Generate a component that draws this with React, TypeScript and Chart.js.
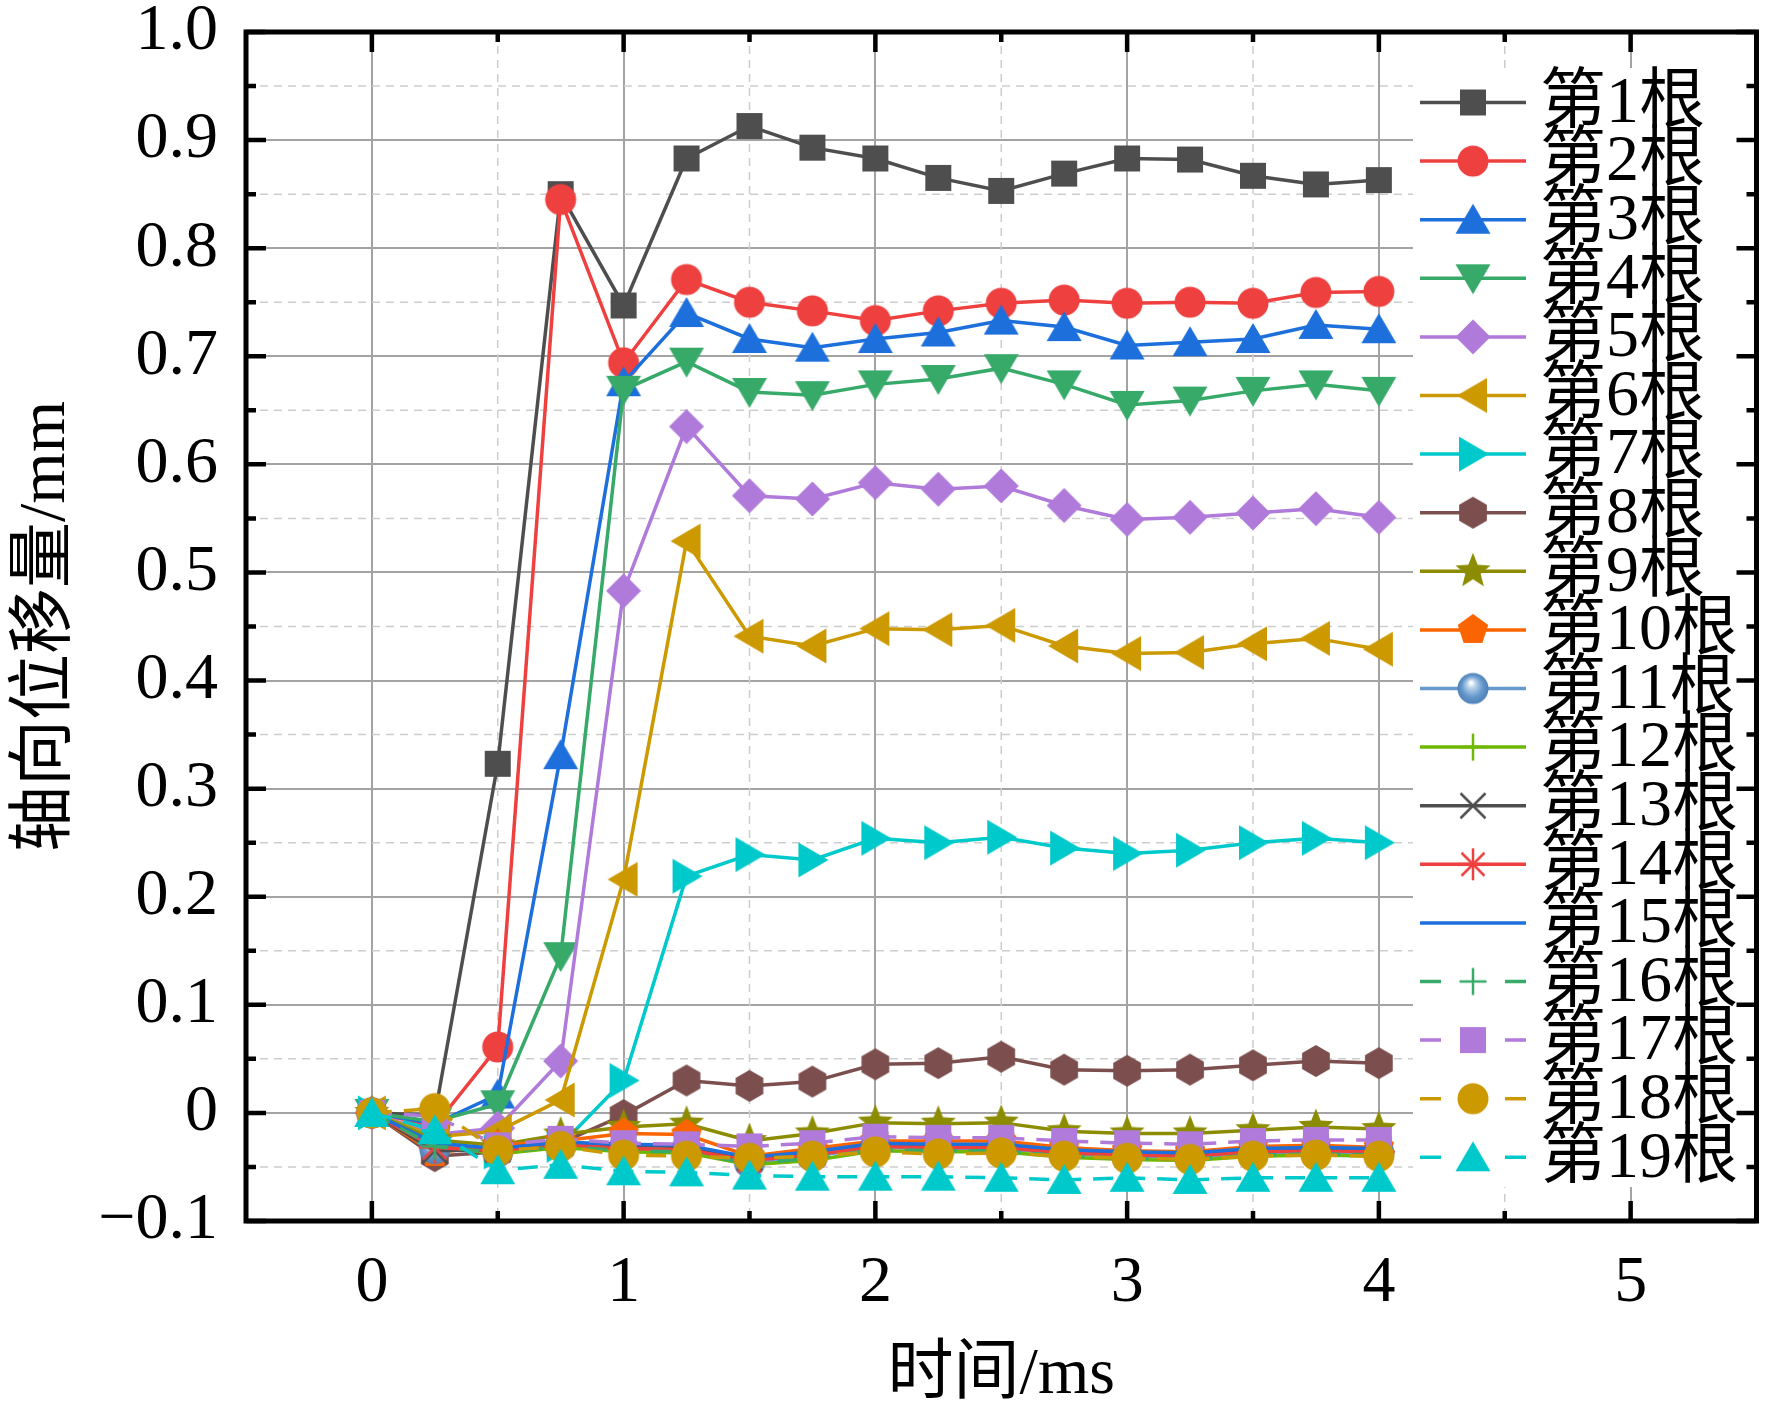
import { useEffect, useRef } from "react";
import { Chart, registerables } from "chart.js";

Chart.register(...registerables);

const FONT = "'Liberation Serif', 'Times New Roman', 'Noto Sans CJK SC', serif";

// 时间 (ms)
const TIME = [0, 0.25, 0.5, 0.75, 1, 1.25, 1.5, 1.75, 2, 2.25, 2.5, 2.75, 3, 3.25, 3.5, 3.75, 4];

const X_TICKS = [0, 1, 2, 3, 4, 5];
const X_MINOR = [0.5, 1.5, 2.5, 3.5, 4.5];
const Y_TICKS = [-0.1, 0, 0.1, 0.2, 0.3, 0.4, 0.5, 0.6, 0.7, 0.8, 0.9, 1.0];
const Y_MINOR = [-0.05, 0.05, 0.15, 0.25, 0.35, 0.45, 0.55, 0.65, 0.75, 0.85, 0.95];

const ROD_NAMES = [
  "第1根", "第2根", "第3根", "第4根", "第5根", "第6根", "第7根", "第8根", "第9根", "第10根",
  "第11根", "第12根", "第13根", "第14根", "第15根", "第16根", "第17根", "第18根", "第19根",
];

// 轴向位移量 (mm)
const ROD_1 = [0, -0.002, 0.323, 0.850, 0.747, 0.883, 0.913, 0.893, 0.883, 0.865, 0.853, 0.869, 0.883, 0.882, 0.867, 0.859, 0.863];
const ROD_2 = [0, -0.012, 0.061, 0.845, 0.694, 0.771, 0.750, 0.742, 0.733, 0.742, 0.749, 0.752, 0.749, 0.750, 0.749, 0.759, 0.760];
const ROD_3 = [0, -0.010, 0.017, 0.331, 0.676, 0.740, 0.716, 0.708, 0.716, 0.722, 0.733, 0.727, 0.710, 0.713, 0.716, 0.729, 0.725];
const ROD_4 = [0, -0.008, 0.008, 0.145, 0.669, 0.695, 0.667, 0.664, 0.674, 0.679, 0.689, 0.674, 0.655, 0.659, 0.668, 0.674, 0.668];
const ROD_5 = [0, -0.020, -0.014, 0.048, 0.483, 0.635, 0.571, 0.568, 0.583, 0.577, 0.580, 0.562, 0.549, 0.551, 0.555, 0.559, 0.551];
const ROD_6 = [0, -0.022, -0.017, 0.012, 0.216, 0.529, 0.441, 0.432, 0.448, 0.447, 0.451, 0.432, 0.425, 0.426, 0.434, 0.439, 0.429];
const ROD_7 = [0, -0.025, -0.036, -0.030, 0.030, 0.219, 0.239, 0.234, 0.254, 0.250, 0.255, 0.245, 0.240, 0.243, 0.250, 0.254, 0.250];
const ROD_8 = [0, -0.040, -0.036, -0.028, -0.002, 0.030, 0.025, 0.029, 0.045, 0.046, 0.052, 0.040, 0.039, 0.040, 0.044, 0.048, 0.046];
const ROD_9 = [0, -0.025, -0.030, -0.020, -0.013, -0.010, -0.026, -0.019, -0.009, -0.010, -0.009, -0.017, -0.019, -0.019, -0.016, -0.013, -0.015];
const ROD_10 = [0, -0.037, -0.030, -0.026, -0.019, -0.020, -0.040, -0.033, -0.026, -0.026, -0.026, -0.032, -0.035, -0.036, -0.031, -0.030, -0.032];
const ROD_11 = [0, -0.033, -0.036, -0.030, -0.033, -0.034, -0.046, -0.040, -0.032, -0.033, -0.033, -0.038, -0.040, -0.041, -0.037, -0.036, -0.037];
const ROD_12 = [0, -0.030, -0.038, -0.032, -0.036, -0.037, -0.048, -0.044, -0.035, -0.036, -0.036, -0.041, -0.043, -0.044, -0.040, -0.039, -0.040];
const ROD_13 = [0, -0.035, -0.034, -0.028, -0.030, -0.031, -0.042, -0.037, -0.029, -0.030, -0.030, -0.035, -0.037, -0.038, -0.034, -0.033, -0.034];
const ROD_14 = [0, -0.032, -0.035, -0.029, -0.033, -0.034, -0.044, -0.039, -0.031, -0.032, -0.032, -0.037, -0.039, -0.040, -0.036, -0.035, -0.036];
const ROD_15 = [0, -0.028, -0.033, -0.027, -0.029, -0.030, -0.041, -0.036, -0.028, -0.029, -0.029, -0.034, -0.036, -0.037, -0.033, -0.032, -0.033];
const ROD_16 = [0, -0.031, -0.037, -0.031, -0.035, -0.036, -0.047, -0.042, -0.034, -0.035, -0.035, -0.040, -0.042, -0.043, -0.039, -0.038, -0.039];
const ROD_17 = [0, -0.003, -0.030, -0.024, -0.028, -0.029, -0.031, -0.028, -0.022, -0.023, -0.023, -0.026, -0.028, -0.029, -0.026, -0.025, -0.025];
const ROD_18 = [0, 0.004, -0.035, -0.031, -0.039, -0.040, -0.042, -0.040, -0.036, -0.038, -0.037, -0.040, -0.042, -0.043, -0.040, -0.039, -0.040];
const ROD_19 = [0, -0.016, -0.053, -0.048, -0.054, -0.055, -0.058, -0.059, -0.059, -0.059, -0.060, -0.062, -0.060, -0.062, -0.060, -0.060, -0.060];

const SERIES = [
  ROD_1, ROD_2, ROD_3, ROD_4, ROD_5, ROD_6, ROD_7, ROD_8, ROD_9, ROD_10,
  ROD_11, ROD_12, ROD_13, ROD_14, ROD_15, ROD_16, ROD_17, ROD_18, ROD_19,
];

const GRAY = "#4e4e4e", RED = "#ef4040", BLUE = "#1d6fdc", GREEN = "#37aa6a",
  PURPLE = "#b07ada", GOLD = "#cc9900", CYAN = "#00c9cc";

const STYLE: { color: string; marker: string; dashed?: boolean }[] = [
  { color: GRAY, marker: "square" },
  { color: RED, marker: "circle" },
  { color: BLUE, marker: "triUp" },
  { color: GREEN, marker: "triDown" },
  { color: PURPLE, marker: "diamond" },
  { color: GOLD, marker: "triLeft" },
  { color: CYAN, marker: "triRight" },
  { color: "#7c4e4e", marker: "hexagon" },
  { color: "#8c8c00", marker: "star" },
  { color: "#fb6501", marker: "pentagon" },
  { color: "#6699cc", marker: "sphere" },
  { color: "#6fb802", marker: "plus" },
  { color: GRAY, marker: "cross" },
  { color: RED, marker: "asterisk" },
  { color: BLUE, marker: "none" },
  { color: GREEN, marker: "plus", dashed: true },
  { color: PURPLE, marker: "square", dashed: true },
  { color: GOLD, marker: "circle", dashed: true },
  { color: CYAN, marker: "triUp", dashed: true },
];

function makeMarker(kind: string, color: string): HTMLCanvasElement | null {
  if (kind === "none") return null;
  const s = 44;
  const c = document.createElement("canvas");
  c.width = s;
  c.height = s;
  const g = c.getContext("2d")!;
  g.translate(s / 2, s / 2);
  g.fillStyle = color;
  g.strokeStyle = color;
  g.lineWidth = 2.5;
  const poly = (pts: number[][]) => {
    g.beginPath();
    pts.forEach(([x, y], i) => (i ? g.lineTo(x, y) : g.moveTo(x, y)));
    g.closePath();
    g.fill();
  };
  const ring = (n: number, r: number, r2?: number) => {
    const pts: number[][] = [];
    const m = r2 ? n * 2 : n;
    for (let i = 0; i < m; i++) {
      const a = -Math.PI / 2 + (i * 2 * Math.PI) / m;
      const rr = r2 && i % 2 ? r2 : r;
      pts.push([rr * Math.cos(a), rr * Math.sin(a)]);
    }
    poly(pts);
  };
  const seg = (x1: number, y1: number, x2: number, y2: number) => {
    g.beginPath();
    g.moveTo(x1, y1);
    g.lineTo(x2, y2);
    g.stroke();
  };
  switch (kind) {
    case "square": g.fillRect(-13, -13, 26, 26); break;
    case "circle": g.beginPath(); g.arc(0, 0, 15.5, 0, Math.PI * 2); g.fill(); break;
    case "triUp": poly([[0, -16], [17.5, 14], [-17.5, 14]]); break;
    case "triDown": poly([[0, 16], [17.5, -14], [-17.5, -14]]); break;
    case "triLeft": poly([[-16, 0], [14, -17.5], [14, 17.5]]); break;
    case "triRight": poly([[16, 0], [-14, -17.5], [-14, 17.5]]); break;
    case "diamond": poly([[0, -17.5], [17.5, 0], [0, 17.5], [-17.5, 0]]); break;
    case "hexagon": ring(6, 16); break;
    case "pentagon": ring(5, 16); break;
    case "star": ring(5, 18.5, 8); break;
    case "sphere": {
      const gr = g.createRadialGradient(-2, -6, 1, 0, 0, 15.5);
      gr.addColorStop(0, "#ffffff");
      gr.addColorStop(0.25, "#b5cfe9");
      gr.addColorStop(0.65, color);
      gr.addColorStop(1, "#4f80b8");
      g.fillStyle = gr;
      g.beginPath(); g.arc(0, 0, 15.5, 0, Math.PI * 2); g.fill();
      break;
    }
    case "plus": seg(-13.5, 0, 13.5, 0); seg(0, -13.5, 0, 13.5); break;
    case "cross": seg(-12.5, -12.5, 12.5, 12.5); seg(-12.5, 12.5, 12.5, -12.5); break;
    case "asterisk":
      seg(-16, 0, 16, 0); seg(0, -16, 0, 16);
      seg(-11.5, -11.5, 11.5, 11.5); seg(-11.5, 11.5, 11.5, -11.5);
      break;
  }
  return c;
}

const fmtY = (v: number) => {
  const r = Math.round(v * 10) / 10;
  if (r === 0) return "0";
  return r < 0 ? "\u2212" + Math.abs(r).toFixed(1) : r.toFixed(1);
};

export default function App() {
  const canvasRef = useRef<HTMLCanvasElement>(null);
  const chartRef = useRef<Chart | null>(null);

  useEffect(() => {
    document.body.style.margin = "0";
    if (!canvasRef.current) return;
    if (chartRef.current) chartRef.current.destroy();

    const markers = STYLE.map(s => makeMarker(s.marker, s.color));

    const framePlugin = {
      id: "frame",
      beforeDatasetsDraw(chart: any) {
        const { ctx, chartArea: a, scales: { x, y } } = chart;
        ctx.save();
        ctx.strokeStyle = "#cdcdcd";
        ctx.lineWidth = 1.5;
        ctx.setLineDash([8, 6]);
        ctx.beginPath();
        X_MINOR.forEach(v => {
          const px = x.getPixelForValue(v);
          ctx.moveTo(px, a.top); ctx.lineTo(px, a.bottom);
        });
        Y_MINOR.forEach(v => {
          const py = y.getPixelForValue(v);
          ctx.moveTo(a.left, py); ctx.lineTo(a.right, py);
        });
        ctx.stroke();
        ctx.restore();
      },
      afterDatasetsDraw(chart: any) {
        const { ctx, chartArea: a, scales: { x, y } } = chart;
        ctx.save();

        // legend box
        ctx.fillStyle = "#ffffff";
        ctx.fillRect(1413, 68, a.right - 1413, 1187 - 68);
        STYLE.forEach((st, i) => {
          const cy = 102.5 + i * 58.6;
          ctx.strokeStyle = st.color;
          ctx.lineWidth = 3.5;
          ctx.setLineDash([]);
          ctx.beginPath();
          if (st.dashed) {
            ctx.moveTo(1420, cy); ctx.lineTo(1441, cy);
            ctx.moveTo(1505, cy); ctx.lineTo(1526, cy);
          } else {
            ctx.moveTo(1420, cy); ctx.lineTo(1526, cy);
          }
          ctx.stroke();
          const m = markers[i];
          if (m) ctx.drawImage(m, 1473 - m.width / 2, cy - m.height / 2);
          ctx.fillStyle = "#000";
          ctx.font = `66px ${FONT}`;
          ctx.textBaseline = "middle";
          ctx.textAlign = "left";
          ctx.fillText(ROD_NAMES[i], 1540, cy + 2);
        });

        // frame + inward ticks
        ctx.strokeStyle = "#000";
        ctx.lineWidth = 5;
        ctx.strokeRect(a.left, a.top, a.right - a.left, a.bottom - a.top);
        ctx.lineWidth = 4.5;
        ctx.beginPath();
        const tickX = (v: number, len: number) => {
          const px = x.getPixelForValue(v);
          ctx.moveTo(px, a.bottom); ctx.lineTo(px, a.bottom - len);
          ctx.moveTo(px, a.top); ctx.lineTo(px, a.top + len);
        };
        const tickY = (v: number, len: number) => {
          const py = y.getPixelForValue(v);
          ctx.moveTo(a.left, py); ctx.lineTo(a.left + len, py);
          ctx.moveTo(a.right, py); ctx.lineTo(a.right - len, py);
        };
        X_TICKS.forEach(v => tickX(v, 20));
        X_MINOR.forEach(v => tickX(v, 10));
        Y_TICKS.forEach(v => tickY(v, 20));
        Y_MINOR.forEach(v => tickY(v, 10));
        ctx.stroke();
        ctx.restore();
      },
    };

    const datasets = SERIES.map((vals, i) => {
      const st = STYLE[i];
      const m = markers[i];
      return {
        label: ROD_NAMES[i],
        data: TIME.map((t, k) => ({ x: t, y: vals[k] })),
        borderColor: st.color,
        backgroundColor: st.color,
        borderWidth: 3.5,
        borderDash: st.dashed ? [20, 12] : [],
        pointStyle: m ?? "circle",
        pointRadius: m ? 12 : 0,
        pointHoverRadius: m ? 12 : 0,
        tension: 0,
        order: SERIES.length - 1 - i,
      };
    });

    const tickFont = { family: FONT, size: 66 };

    chartRef.current = new Chart(canvasRef.current, {
      type: "line",
      data: { datasets },
      options: {
        animation: false,
        responsive: false,
        devicePixelRatio: 1,
        events: [],
        layout: { padding: { left: 0, top: 32, right: 14, bottom: 0 } },
        plugins: { legend: { display: false }, tooltip: { enabled: false } },
        scales: {
          x: {
            type: "linear",
            min: -0.5,
            max: 5.5,
            afterBuildTicks: (s: any) => { s.ticks = X_TICKS.map(v => ({ value: v })); },
            afterFit: (s: any) => { s.height = 194; s.paddingLeft = 0; s.paddingRight = 0; },
            grid: { color: "#a3a3a3", lineWidth: 2, drawTicks: false },
            border: { display: false },
            ticks: {
              autoSkip: false, maxRotation: 0, padding: 23, color: "#000", font: tickFont,
              callback: (v: any) => String(v),
            },
            title: {
              display: true, text: "时间/ms", color: "#000", font: tickFont,
              padding: { top: 0, bottom: 0 },
            },
          },
          y: {
            type: "linear",
            min: -0.1,
            max: 1.0,
            afterBuildTicks: (s: any) => { s.ticks = Y_TICKS.map(v => ({ value: v })); },
            afterFit: (s: any) => { s.width = 246; s.paddingTop = 0; s.paddingBottom = 0; },
            grid: { color: "#a3a3a3", lineWidth: 2, drawTicks: false },
            border: { display: false },
            ticks: {
              autoSkip: false, padding: 28, color: "#000", font: tickFont,
              callback: (v: any) => fmtY(Number(v)),
            },
            title: {
              display: true, text: "轴向位移量/mm", color: "#000", font: tickFont,
              padding: { top: 7, bottom: 0 },
            },
          },
        },
      },
      plugins: [framePlugin],
    } as any);

    return () => { chartRef.current?.destroy(); chartRef.current = null; };
  }, []);

  return (
    <div style={{ width: 1772, height: 1415, background: "#fff" }}>
      <canvas ref={canvasRef} width={1772} height={1415} style={{ display: "block", width: 1772, height: 1415 }} />
    </div>
  );
}
